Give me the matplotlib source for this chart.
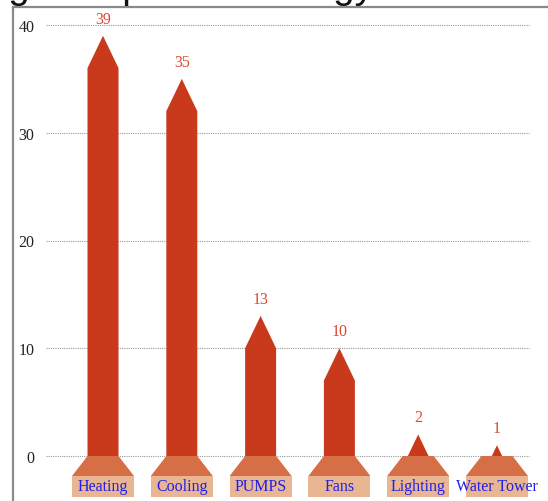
import matplotlib
matplotlib.use("Agg")
import matplotlib.pyplot as plt
from matplotlib.patches import Polygon, Rectangle

categories = ["Heating", "Cooling", "PUMPS", "Fans", "Lighting", "Water Tower"]
values = [39, 35, 13, 10, 2, 1]
yticks = [0, 10, 20, 30, 40]

W, H = 548, 502
fig = plt.figure(figsize=(W / 100, H / 100), dpi=100)

# pixel layout of the reference
x0_px, y0_px = 103.0, 457.0      # centre of first bar, y of value 0
dx_px, dy_px = 78.8, 10.775      # px per category, px per unit
left_px, top_px = 13, 8
right_px, bot_px = 570, 515

ax = fig.add_axes([left_px / W, 1 - bot_px / H, (right_px - left_px) / W, (bot_px - top_px) / H])
ax.set_xlim((left_px - x0_px) / dx_px, (right_px - x0_px) / dx_px)
ax.set_ylim((y0_px - bot_px) / dy_px, (y0_px - top_px) / dy_px)

for s in ["right", "bottom"]:
    ax.spines[s].set_visible(False)
for s in ["left", "top"]:
    ax.spines[s].set_color("#8a8a8a")
    ax.spines[s].set_linewidth(1.6)

ax.set_xticks([])
ax.set_yticks(yticks)
ax.set_yticklabels([str(t) for t in yticks], family="Liberation Serif", fontsize=11.5, color="#222222")
ax.tick_params(axis="y", length=0, pad=-15.5)

# dotted grid
gx0 = (46 - x0_px) / dx_px
gx1 = (529 - x0_px) / dx_px
ax.hlines(yticks, gx0, gx1, colors="#9a9a9a", linestyles=(0, (1, 1)), linewidth=0.8, zorder=1)

bw = 31 / dx_px        # bar width
bw2 = 62 / dx_px       # base width
tip = 3                # height of the pointed top
base_h = 20 / dy_px
lab_h = 21 / dy_px

for i, (cat, v) in enumerate(zip(categories, values)):
    sh = v - tip
    lo = min(0, sh)
    bar = Polygon([(i - bw / 2, lo), (i - bw / 2, sh), (i, v), (i + bw / 2, sh), (i + bw / 2, lo)],
                  closed=True, facecolor="#c93a1d", edgecolor="none", zorder=2)
    ax.add_patch(bar)
    trap = Polygon([(i - bw / 2, 0), (i + bw / 2, 0), (i + bw2 / 2, -base_h), (i - bw2 / 2, -base_h)],
                   closed=True, facecolor="#d66f46", edgecolor="none", zorder=3)
    ax.add_patch(trap)
    ax.add_patch(Rectangle((i - bw2 / 2, -base_h - lab_h), bw2, lab_h,
                           facecolor="#eab593", edgecolor="none", zorder=3))
    ax.text(i, -base_h - lab_h / 2, cat, ha="center", va="center", color="#1f1fe6",
            family="Liberation Serif", fontsize=11.5, zorder=4)
    ax.text(i, v + 1.6, str(v), ha="center", va="center", color="#dc4a30",
            family="Liberation Serif", fontsize=11.5, zorder=4)

# title cropped at the top of the image
fig.text(-108 / W, 1 + 2 / H, "Building Component Energy", ha="left", va="baseline",
         family="Liberation Sans", fontsize=27.9, color="#111111")

fig.savefig("out.png", dpi=100)
